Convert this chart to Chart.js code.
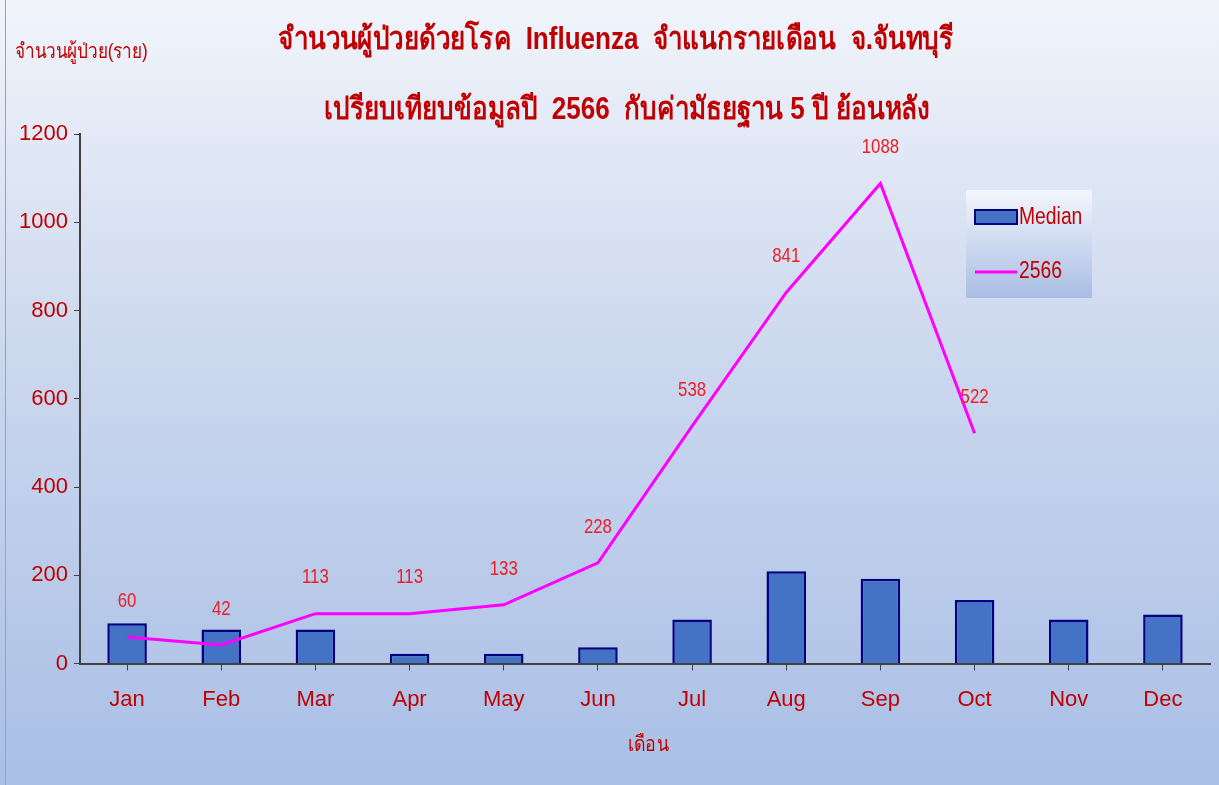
<!DOCTYPE html>
<html>
<head>
<meta charset="utf-8">
<script src="https://cdn.jsdelivr.net/npm/chart.js@4.4.0/dist/chart.umd.min.js"></script>
<style>
  html, body { margin: 0; padding: 0; background: #fff; }
  #wrap { width: 1219px; height: 785px; position: relative; }
</style>
</head>
<body>
<div id="wrap"><canvas id="fluChart" width="1219" height="785"></canvas></div>
<script>
// ข้อมูล
const months = ['Jan', 'Feb', 'Mar', 'Apr', 'May', 'Jun', 'Jul', 'Aug', 'Sep', 'Oct', 'Nov', 'Dec'];
const medianValues = [91, 77, 77, 22, 22, 37, 100, 209, 192, 144, 100, 111];
const cases2566 = [60, 42, 113, 113, 133, 228, 538, 841, 1088, 522, null, null];
const yTicks = [0, 200, 400, 600, 800, 1000, 1200];
const titleLines = ['จำนวนผู้ป่วยด้วยโรค  Influenza  จำแนกรายเดือน  จ.จันทบุรี', 'เปรียบเทียบข้อมูลปี  2566  กับค่ามัธยฐาน 5 ปี ย้อนหลัง'];
const yTitle = 'จำนวนผู้ป่วย(ราย)';
const xTitle = 'เดือน';

const RED = '#c00000';
const FONT = "'Liberation Sans Narrow', 'Arial Narrow', 'Liberation Sans', sans-serif";

// เขียนข้อความแบบบีบแนวนอน (ให้ดูเหมือนฟอนต์ narrow)
function narrowText(ctx, text, x, y, sx) {
    ctx.save();
    ctx.translate(x, y);
    ctx.scale(sx, 1);
    ctx.fillText(text, 0, 0);
    ctx.restore();
}

// พื้นหลัง + ข้อความ + legend
const decorPlugin = {
    id: 'decor',
    beforeDraw(chart) {
        const ctx = chart.ctx;
        const w = chart.width, h = chart.height;
        const g = ctx.createLinearGradient(0, 0, 0, h);
        g.addColorStop(0, '#f1f4fb');
        g.addColorStop(0.45, '#ccd8ee');
        g.addColorStop(1, '#a9bfe6');
        ctx.save();
        ctx.fillStyle = g;
        ctx.fillRect(0, 0, w, h);
        ctx.strokeStyle = '#9aa3b5';
        ctx.lineWidth = 1;
        ctx.beginPath();
        ctx.moveTo(5.5, 0);
        ctx.lineTo(5.5, h);
        ctx.stroke();
        ctx.restore();
    },
    afterDraw(chart) {
        const ctx = chart.ctx;
        ctx.save();
        // ชื่อกราฟ
        ctx.fillStyle = RED;
        ctx.textAlign = 'center';
        ctx.textBaseline = 'middle';
        ctx.font = 'bold 31px ' + FONT;
        narrowText(ctx, titleLines[0], 616, 40, 0.84);
        narrowText(ctx, titleLines[1], 627, 110, 0.84);
        // ชื่อแกน
        ctx.font = '21px ' + FONT;
        ctx.textAlign = 'left';
        narrowText(ctx, yTitle, 15, 52, 0.82);
        ctx.textAlign = 'center';
        narrowText(ctx, xTitle, 648, 745, 0.85);

        // ป้ายค่าของเส้น 2566
        const meta = chart.getDatasetMeta(1);
        ctx.font = '21px ' + FONT;
        ctx.fillStyle = '#ee1c24';
        meta.data.forEach((pt, i) => {
            if (cases2566[i] == null) return;
            narrowText(ctx, String(cases2566[i]), pt.x, pt.y - 36, 0.8);
        });

        // legend
        const lx = 966, ly = 190, lw = 126, lh = 108;
        const lg = ctx.createLinearGradient(0, ly, 0, ly + lh);
        lg.addColorStop(0, '#f3f6fc');
        lg.addColorStop(1, '#a9bde4');
        ctx.fillStyle = lg;
        ctx.fillRect(lx, ly, lw, lh);
        ctx.fillStyle = '#4472c4';
        ctx.strokeStyle = '#000080';
        ctx.lineWidth = 2;
        ctx.fillRect(975, 210, 42, 14);
        ctx.strokeRect(975, 210, 42, 14);
        ctx.strokeStyle = '#ff00ff';
        ctx.lineWidth = 3;
        ctx.beginPath();
        ctx.moveTo(975, 272);
        ctx.lineTo(1017, 272);
        ctx.stroke();
        ctx.fillStyle = RED;
        ctx.textAlign = 'left';
        ctx.font = '23px ' + FONT;
        narrowText(ctx, 'Median', 1019, 218, 0.84);
        narrowText(ctx, '2566', 1019, 272, 0.84);
        ctx.restore();
    }
};

new Chart(document.getElementById('fluChart'), {
    type: 'bar',
    data: {
        labels: months,
        datasets: [{
            type: 'bar',
            label: 'Median',
            data: medianValues,
            backgroundColor: '#4472c4',
            borderColor: '#000080',
            borderWidth: 2.5,
            barPercentage: 0.42,
            categoryPercentage: 1,
            order: 2
        }, {
            type: 'line',
            label: '2566',
            data: cases2566,
            borderColor: '#ff00ff',
            borderWidth: 3,
            pointRadius: 0,
            tension: 0,
            spanGaps: false,
            order: 1
        }]
    },
    options: {
        responsive: false,
        animation: false,
        devicePixelRatio: 1,
        layout: { padding: { top: 134, left: 0, right: 9, bottom: 0 } },
        plugins: {
            legend: { display: false },
            title: { display: false },
            tooltip: { enabled: false }
        },
        scales: {
            y: {
                min: 0,
                max: 1200,
                afterBuildTicks(scale) {
                    scale.ticks = yTicks.map(v => ({ value: v }));
                },
                afterFit(scale) { scale.width = 80; },
                grid: {
                    display: true,
                    drawOnChartArea: false,
                    drawTicks: true,
                    tickLength: 6,
                    color: '#404040'
                },
                border: { display: true, color: '#404040', width: 2 },
                ticks: {
                    color: RED,
                    font: { family: FONT, size: 22 },
                    padding: 6,
                    callback: v => String(v)
                }
            },
            x: {
                afterFit(scale) { scale.height = 121.5; },
                grid: {
                    display: true,
                    offset: false,
                    drawOnChartArea: false,
                    drawTicks: true,
                    tickLength: 7,
                    color: '#404040'
                },
                border: { display: true, color: '#404040', width: 2 },
                ticks: {
                    color: RED,
                    font: { family: FONT, size: 22 },
                    padding: 16
                }
            }
        }
    },
    plugins: [decorPlugin]
});
</script>
</body>
</html>
